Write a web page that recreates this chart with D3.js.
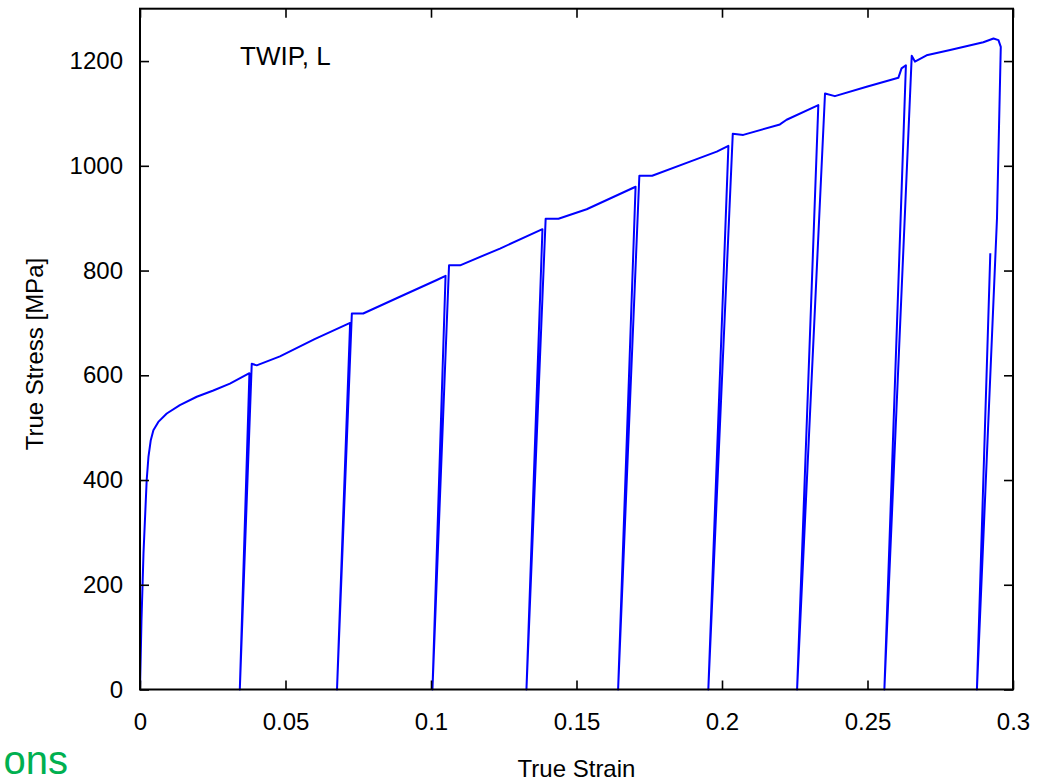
<!DOCTYPE html>
<html>
<head>
<meta charset="utf-8">
<script src="https://cdn.jsdelivr.net/npm/d3@7"></script>
<style>
  html, body { margin: 0; padding: 0; background: #ffffff; }
  svg { display: block; }
</style>
</head>
<body>
<svg id="chart" width="1040" height="784"></svg>
<script>
// ---- data ----
const strain = [
  0, 0.0005, 0.0012, 0.0023, 0.0029, 0.0037, 0.0046, 0.0063, 0.0092, 0.0137, 0.0195, 0.0252, 0.0309, 0.0376,
  0.0343,
  0.0384, 0.0401, 0.0481, 0.0600, 0.0722,
  0.0677,
  0.0728, 0.0767, 0.0893, 0.1020, 0.1050,
  0.1005,
  0.1062, 0.1100, 0.1237, 0.1383,
  0.1328,
  0.1394, 0.1438, 0.1535, 0.1703,
  0.1643,
  0.1716, 0.1760, 0.1890, 0.1982, 0.2022,
  0.1953,
  0.2037, 0.2073, 0.2199, 0.2222, 0.2331,
  0.2258,
  0.2354, 0.2388, 0.2497, 0.2606, 0.2617, 0.2632,
  0.2558,
  0.2652, 0.2663, 0.2703, 0.2784, 0.2898, 0.2933, 0.2950, 0.2958, 0.2945,
  0.2876,
  0.2922
];
const stress = [
  0, 130, 260, 400, 444, 476, 495, 511, 527, 543, 559, 571, 584, 604,
  0,
  622, 619, 636, 669, 700,
  0,
  718, 718, 750, 782, 790,
  0,
  810, 810, 842, 879,
  0,
  899, 899, 917, 960,
  0,
  981, 981, 1008, 1027, 1038,
  0,
  1061, 1059, 1079, 1088, 1116,
  0,
  1138, 1133, 1151, 1168, 1186, 1192,
  0,
  1210, 1199, 1211, 1221, 1236, 1243, 1240, 1227, 900,
  0,
  833
];
const xTicks = [0, 0.05, 0.1, 0.15, 0.2, 0.25, 0.3];
const xTickLabels = ["0", "0.05", "0.1", "0.15", "0.2", "0.25", "0.3"];
const yTicks = [0, 200, 400, 600, 800, 1000, 1200];
const yTickLabels = ["0", "200", "400", "600", "800", "1000", "1200"];
const xTitle = "True Strain";
const yTitle = "True Stress [MPa]";
const annotation = "TWIP, L";
const cornerText = "ons";

// ---- layout ----
const mLeft = 140, mRight = 1013, mTop = 8.7, mBottom = 689.5;
const svg = d3.select("#chart");
const font = "'Liberation Sans', Arial, sans-serif";

const x = d3.scaleLinear().domain([0, 0.3]).range([mLeft, mRight]);
const y = d3.scaleLinear().domain([0, 1300]).range([mBottom, mTop]);

const pts = strain.map((s, i) => [s, stress[i]]);

// curve
svg.append("path")
  .datum(pts)
  .attr("fill", "none")
  .attr("stroke", "#0000ff")
  .attr("stroke-width", 2)
  .attr("stroke-linejoin", "round")
  .attr("d", d3.line().x(d => x(d[0])).y(d => y(d[1])));

// axes with inward ticks on all four sides
const tickLen = 9;
const gB = svg.append("g").attr("transform", `translate(0,${mBottom})`)
  .call(d3.axisBottom(x).tickValues(xTicks).tickFormat((d, i) => xTickLabels[i]).tickSizeInner(-tickLen).tickSizeOuter(0).tickPadding(23));
const gT = svg.append("g").attr("transform", `translate(0,${mTop})`)
  .call(d3.axisTop(x).tickValues(xTicks).tickFormat("").tickSizeInner(-tickLen).tickSizeOuter(0));
const gL = svg.append("g").attr("transform", `translate(${mLeft},0)`)
  .call(d3.axisLeft(y).tickValues(yTicks).tickFormat((d, i) => yTickLabels[i]).tickSizeInner(-tickLen).tickSizeOuter(0).tickPadding(17));
const gR = svg.append("g").attr("transform", `translate(${mRight},0)`)
  .call(d3.axisRight(y).tickValues(yTicks).tickFormat("").tickSizeInner(-tickLen).tickSizeOuter(0));

[gB, gT, gL, gR].forEach(g => {
  g.select(".domain").remove();
  g.selectAll(".tick line").attr("stroke", "#000").attr("stroke-width", 1.6);
  g.selectAll("text").attr("font-family", font).attr("font-size", 24).attr("fill", "#000");
});

// frame
svg.append("rect")
  .attr("x", mLeft).attr("y", mTop)
  .attr("width", mRight - mLeft).attr("height", mBottom - mTop)
  .attr("fill", "none").attr("stroke", "#000").attr("stroke-width", 2);

// titles
svg.append("text")
  .attr("x", (mLeft + mRight) / 2).attr("y", 777)
  .attr("text-anchor", "middle")
  .attr("font-family", font).attr("font-size", 24)
  .text(xTitle);

svg.append("text")
  .attr("transform", `translate(43,${(mTop + mBottom) / 2 + 5}) rotate(-90)`)
  .attr("text-anchor", "middle")
  .attr("font-family", font).attr("font-size", 24)
  .text(yTitle);

svg.append("text")
  .attr("x", x(0.0344)).attr("y", y(1192))
  .attr("font-family", font).attr("font-size", 26)
  .text(annotation);

svg.append("text")
  .attr("x", 68).attr("y", 774)
  .attr("text-anchor", "end")
  .attr("font-family", font).attr("font-size", 40)
  .attr("fill", "#00b050")
  .text(cornerText);
</script>
</body>
</html>
